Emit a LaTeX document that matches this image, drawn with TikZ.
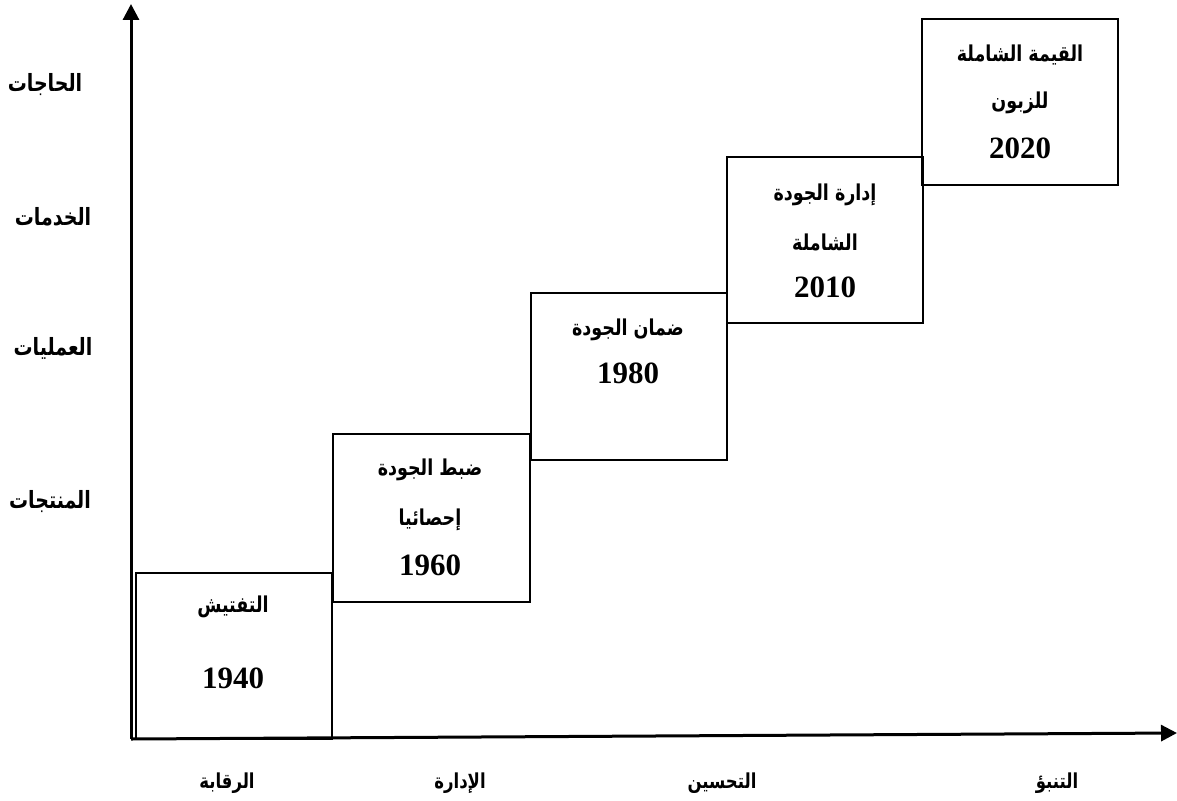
\documentclass[tikz,border=0pt]{standalone}
\usepackage{fontspec}
\setmainfont{Liberation Serif}
\newfontfamily\arabicfont[Script=Arabic]{DejaVu Sans}
\TeXXeTstate=1
\usetikzlibrary{arrows.meta}
\newcommand\artxt[1]{\scalebox{1}[1.25]{\beginR #1\endR}}
\begin{document}
\begin{tikzpicture}[x=1pt,y=-1pt,
  stagebox/.style={draw, line width=2pt, inner sep=0pt},
  ar/.style={font=\arabicfont\bfseries\fontsize{17.5}{20}\selectfont, inner sep=0pt},
  arside/.style={font=\arabicfont\bfseries\fontsize{19}{22}\selectfont, inner sep=0pt},
  arbottom/.style={font=\arabicfont\bfseries\fontsize{16.5}{20}\selectfont, inner sep=0pt},
  yr/.style={font=\bfseries\fontsize{31}{36}\selectfont, inner sep=0pt},
  axis/.style={line width=3pt, -{Triangle[length=16pt,width=16pt]}}]
\useasboundingbox (0,0) rectangle (1177,800);
% boxes
\node[stagebox, minimum width=196pt, minimum height=166pt] (b1) at (234,656) {};
\node[stagebox, minimum width=197pt, minimum height=168pt] (b2) at (431.5,518) {};
\node[stagebox, minimum width=196pt, minimum height=167pt] (b3) at (629,376.5) {};
\node[stagebox, minimum width=196pt, minimum height=166pt] (b4) at (825,240) {};
\node[stagebox, minimum width=196pt, minimum height=166pt] (b5) at (1020,102) {};
% axes
\coordinate (o) at (131,739);
\coordinate (ytip) at (131,4);
\coordinate (xtip) at (1177,733);
\draw[axis] (o) -- (ytip);
\draw[axis] (o) -- (xtip);
% box texts
\node[ar] (t1a) at (233,607) {\artxt{التفتيش}};
\node[yr] (t1b) at (233,678) {1940};
\node[ar] (t2a) at (430,470) {\artxt{ضبط الجودة}};
\node[ar] (t2b) at (430,520) {\artxt{إحصائيا}};
\node[yr] (t2c) at (430,565) {1960};
\node[ar] (t3a) at (628,330) {\artxt{ضمان الجودة}};
\node[yr] (t3b) at (628,373) {1980};
\node[ar] (t4a) at (825,195) {\artxt{إدارة الجودة}};
\node[ar] (t4b) at (825,242) {\artxt{الشاملة}};
\node[yr] (t4c) at (825,287) {2010};
\node[ar] (t5a) at (1020,55) {\artxt{القيمة الشاملة}};
\node[ar] (t5b) at (1020,103) {\artxt{للزبون}};
\node[yr] (t5c) at (1020,148) {2020};
% vertical axis labels
\node[arside] (l1) at (45,85) {\artxt{الحاجات}};
\node[arside] (l2) at (53,217) {\artxt{الخدمات}};
\node[arside] (l3) at (53,348) {\artxt{العمليات}};
\node[arside] (l4) at (50,502) {\artxt{المنتجات}};
% horizontal axis labels
\node[arbottom] (h1) at (227,783) {\artxt{الرقابة}};
\node[arbottom] (h2) at (460,783) {\artxt{الإدارة}};
\node[arbottom] (h3) at (722,783) {\artxt{التحسين}};
\node[arbottom] (h4) at (1057,783) {\artxt{التنبؤ}};
\end{tikzpicture}
\end{document}
